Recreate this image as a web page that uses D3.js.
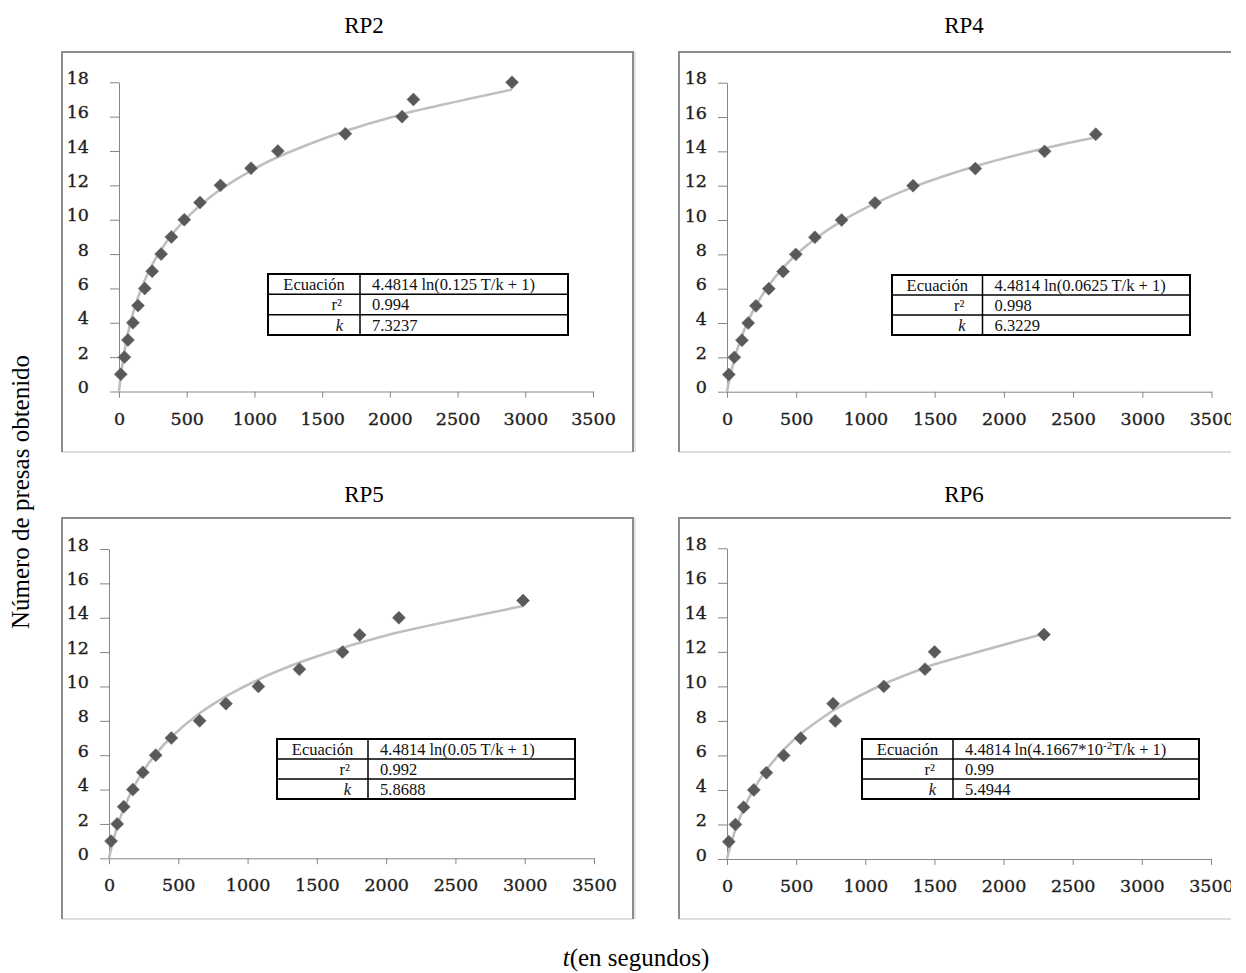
<!DOCTYPE html>
<html>
<head>
<meta charset="utf-8">
<script src="https://cdn.jsdelivr.net/npm/d3@7"></script>
<style>
  html, body { margin: 0; padding: 0; background: #ffffff; }
  svg { display: block; }
</style>
</head>
<body>
<svg id="chart" width="1246" height="973"></svg>
<script>
// ---- data: time (s) of each capture and cumulative number of prey ----
const panelNames = ["RP2", "RP4", "RP5", "RP6"];

const tRP2 = [13, 40, 66, 103, 140, 190, 245, 311, 387, 482, 598, 749, 975, 1173, 1671, 2090, 2174, 2902];
const nRP2 = [1, 2, 3, 4, 5, 6, 7, 8, 9, 10, 11, 12, 13, 14, 15, 16, 17, 18];

const tRP4 = [13, 53, 108, 153, 209, 302, 405, 497, 635, 828, 1069, 1344, 1794, 2294, 2664];
const nRP4 = [1, 2, 3, 4, 5, 6, 7, 8, 9, 10, 11, 12, 13, 14, 15];

const tRP5 = [15, 59, 106, 172, 244, 337, 450, 654, 844, 1078, 1374, 1686, 1809, 2092, 2988];
const nRP5 = [1, 2, 3, 4, 5, 6, 7, 8, 9, 10, 11, 12, 13, 14, 15];

const tRP6 = [13, 61, 120, 194, 285, 410, 532, 767, 783, 1134, 1432, 1501, 2292];
const nRP6 = [1, 2, 3, 4, 5, 6, 7, 9, 8, 10, 11, 12, 13];

// fitted model  N = a ln(c T / k + 1)
const fitA = 4.4814;
const fitC = [0.125, 0.0625, 0.05, 4.1667e-2];
const fitK = [7.3237, 6.3229, 5.8688, 5.4944];
const fitR2 = ["0.994", "0.998", "0.992", "0.99"];
const fitEq = [
  ["4.4814 ln(0.125 T/k + 1)"],
  ["4.4814 ln(0.0625 T/k + 1)"],
  ["4.4814 ln(0.05 T/k + 1)"],
  ["4.4814 ln(4.1667*10", "-2", "T/k + 1)"]
];
const kLabels = ["7.3237", "6.3229", "5.8688", "5.4944"];

const xTicks = [0, 500, 1000, 1500, 2000, 2500, 3000, 3500];
const yTicks = [0, 2, 4, 6, 8, 10, 12, 14, 16, 18];

const yTitle = "Número de presas obtenido";
const xTitleItalic = "t";
const xTitleRest = "(en segundos)";

// ---- layout of the four panels ----
const layout = [
  { frame: [62, 52, 633, 452], x: [119, 593], y: [391.5, 82.3], labelRight: 89, title: [364, 33],
    table: { x: 268, y: 274, w: 300, h: 61, c1: 92 } },
  { frame: [679, 52, null, 452], x: [727, 1211.5], y: [391.7, 82.7], labelRight: 707, title: [964, 33],
    table: { x: 892, y: 275, w: 298, h: 60, c1: 90.5 } },
  { frame: [62, 518, 633, 919], x: [109, 594], y: [858.3, 549], labelRight: 89, title: [364, 502],
    table: { x: 277, y: 739, w: 298, h: 60, c1: 91 } },
  { frame: [679, 518, null, 919], x: [727, 1211], y: [859, 548.3], labelRight: 707, title: [964, 502],
    table: { x: 862, y: 739, w: 337, h: 60, c1: 91 } }
];

const series = [[tRP2, nRP2], [tRP4, nRP4], [tRP5, nRP5], [tRP6, nRP6]];

const svg = d3.select("#chart");
const clipRight = 1231;

svg.append("defs").append("clipPath").attr("id", "pageClip")
  .append("rect").attr("x", 0).attr("y", 0).attr("width", clipRight).attr("height", 973);

const root = svg.append("g").attr("clip-path", "url(#pageClip)");

const serif = "'Liberation Serif', 'Times New Roman', serif";
const tickFont = "'DejaVu Serif', serif";
const fmt = d3.format("d");

function styleTickText(sel) {
  sel.attr("font-family", tickFont).attr("font-size", 17.5)
    .attr("fill", "#1e1e1e").attr("stroke", "#1e1e1e").attr("stroke-width", 0.35);
}

panelNames.forEach((name, i) => {
  const L = layout[i];
  const [ts, ns] = series[i];
  const g = root.append("g");

  // panel frame
  const [fx0, fy0, fx1, fy1] = L.frame;
  const right = fx1 === null ? clipRight + 4 : fx1;
  g.append("line").attr("x1", fx0).attr("x2", right).attr("y1", fy1).attr("y2", fy1)
    .attr("stroke", "#d2d2d2").attr("stroke-width", 1.5);
  g.append("line").attr("x1", fx0).attr("x2", right).attr("y1", fy0).attr("y2", fy0)
    .attr("stroke", "#8c8c8c").attr("stroke-width", 2);
  g.append("line").attr("x1", fx0).attr("x2", fx0).attr("y1", fy0 - 1).attr("y2", fy1)
    .attr("stroke", "#8c8c8c").attr("stroke-width", 2);
  if (fx1 !== null) {
    g.append("line").attr("x1", fx1).attr("x2", fx1).attr("y1", fy0 - 1).attr("y2", fy1)
      .attr("stroke", "#8c8c8c").attr("stroke-width", 2);
    g.append("line").attr("x1", fx1 + 2).attr("x2", fx1 + 2).attr("y1", fy0).attr("y2", fy1)
      .attr("stroke", "#cfcfcf").attr("stroke-width", 1);
  }

  // title
  g.append("text").attr("x", L.title[0]).attr("y", L.title[1])
    .attr("text-anchor", "middle").attr("font-family", serif).attr("font-size", 23)
    .attr("fill", "#000").text(name);

  const x = d3.scaleLinear().domain([0, 3500]).range(L.x);
  const y = d3.scaleLinear().domain([0, 18]).range(L.y);

  // y axis
  const ya = g.append("g").attr("transform", `translate(${L.x[0]},0)`)
    .call(d3.axisLeft(y).tickValues(yTicks).tickFormat(fmt).tickSize(9).tickSizeOuter(0));
  ya.select(".domain").attr("stroke", "#868686");
  ya.selectAll(".tick line").attr("stroke", "#868686");
  ya.selectAll(".tick text")
    .attr("x", -(L.x[0] - L.labelRight)).attr("y", -5).attr("dy", "0.35em")
    .call(styleTickText);

  // x axis
  const xa = g.append("g").attr("transform", `translate(0,${L.y[0]})`)
    .call(d3.axisBottom(x).tickValues(xTicks).tickFormat(fmt).tickSize(6).tickSizeOuter(0));
  xa.select(".domain").attr("stroke", "#868686");
  xa.selectAll(".tick line").attr("stroke", "#868686");
  xa.selectAll(".tick text")
    .attr("y", 27).attr("dy", "0.35em")
    .call(styleTickText);

  // fitted curve evaluated at each observation time
  const fit = t => fitA * Math.log(fitC[i] * t / fitK[i] + 1);
  const curveT = [0].concat(Array.from(new Set(ts)).sort((a, b) => a - b));
  const line = d3.line().x(t => x(t)).y(t => y(fit(t))).curve(d3.curveCatmullRom);
  g.append("path").datum(curveT).attr("d", line)
    .attr("fill", "none").attr("stroke", "#bfbfbf").attr("stroke-width", 2.6);

  // observations
  const diamond = d3.symbol().type(d3.symbolSquare).size(84);
  g.selectAll("path.obs").data(ts.map((t, j) => [t, ns[j]])).join("path")
    .attr("class", "obs")
    .attr("d", diamond)
    .attr("transform", d => `translate(${x(d[0])},${y(d[1])}) rotate(45)`)
    .attr("fill", "#595959").attr("stroke", "#6a6a6a").attr("stroke-width", 0.6);

  // parameter table
  const T = L.table;
  const tg = g.append("g");
  const rowH = T.h / 3;
  tg.append("rect").attr("x", T.x).attr("y", T.y).attr("width", T.w).attr("height", T.h)
    .attr("fill", "#fff").attr("stroke", "#000").attr("stroke-width", 2);
  [1, 2].forEach(r => {
    tg.append("line").attr("x1", T.x).attr("x2", T.x + T.w)
      .attr("y1", T.y + r * rowH).attr("y2", T.y + r * rowH)
      .attr("stroke", "#000").attr("stroke-width", 1.5);
  });
  tg.append("line").attr("x1", T.x + T.c1).attr("x2", T.x + T.c1)
    .attr("y1", T.y).attr("y2", T.y + T.h).attr("stroke", "#000").attr("stroke-width", 1.5);

  const cellText = (r) => tg.append("text").attr("y", T.y + (r + 0.5) * rowH).attr("dy", "0.35em")
    .attr("font-family", serif).attr("font-size", 16.5).attr("fill", "#111");

  cellText(0).attr("x", T.x + T.c1 / 2).attr("text-anchor", "middle").text("Ecuación");
  cellText(1).attr("x", T.x + T.c1 - 18).attr("text-anchor", "end").text("r²");
  cellText(2).attr("x", T.x + T.c1 - 17).attr("text-anchor", "end")
    .attr("font-style", "italic").text("k");

  const eq = cellText(0).attr("x", T.x + T.c1 + 12);
  const parts = fitEq[i];
  eq.append("tspan").text(parts[0]);
  if (parts.length > 1) {
    eq.append("tspan").attr("font-size", 11).attr("dy", -6).text(parts[1]);
    eq.append("tspan").attr("dy", 6).text(parts[2]);
  }
  cellText(1).attr("x", T.x + T.c1 + 12).text(fitR2[i]);
  cellText(2).attr("x", T.x + T.c1 + 12).text(kLabels[i]);
});

// shared axis titles
svg.append("text")
  .attr("transform", "translate(29,492) rotate(-90)")
  .attr("text-anchor", "middle").attr("font-family", serif).attr("font-size", 25)
  .attr("fill", "#000").text(yTitle);

const xt = svg.append("text").attr("x", 636).attr("y", 966)
  .attr("text-anchor", "middle").attr("font-family", serif).attr("font-size", 25).attr("fill", "#000");
xt.append("tspan").attr("font-style", "italic").text(xTitleItalic);
xt.append("tspan").text(xTitleRest);
</script>
</body>
</html>
